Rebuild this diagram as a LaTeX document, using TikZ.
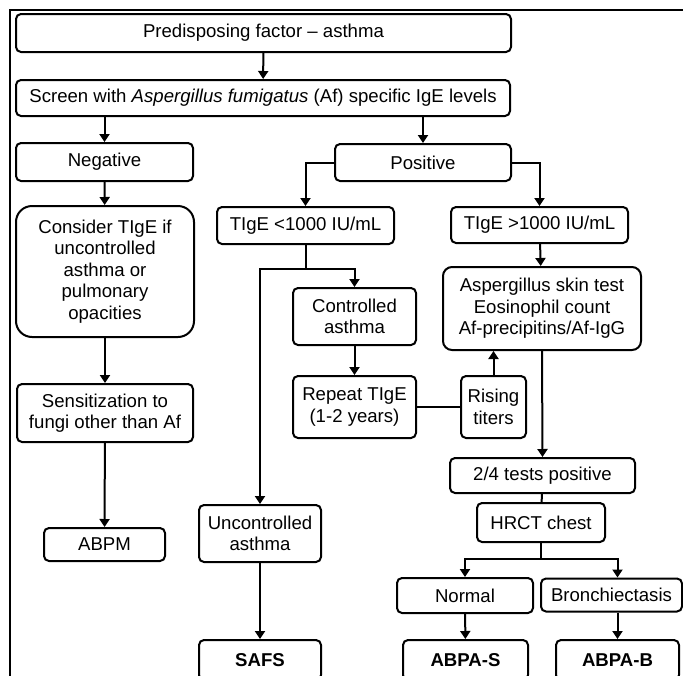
\documentclass[tikz,border=0pt]{standalone}
\usepackage{fontspec}
\setmainfont{Liberation Sans}
\usetikzlibrary{arrows.meta}
\newcommand{\fs}{\fontsize{18.6}{21.6}\selectfont}

\begin{document}
\begin{tikzpicture}[
  x=1pt, y=-1pt,
  >={Triangle[length=8pt,width=10pt]},
  box/.style={draw, rounded corners=5pt, line width=2pt, align=center, inner sep=1pt, font=\fs},
  big/.style={box, rounded corners=16pt},
  res/.style={box, font=\fs\bfseries},
  link/.style={line width=2pt},
]
  \path[use as bounding box] (0,0) rectangle (683,675);
  \clip (0,0) rectangle (683,675);
  \draw[line width=2.6pt] (700,10) -- (10,10) -- (10,700);

  % ---------------- screening
  \node[box, minimum width=495pt, minimum height=38pt] (pre) at (263.5,33) {Predisposing factor – asthma};
  \node[box, minimum width=494pt, minimum height=36pt] (screen) at (263,98)
    {Screen with \textit{Aspergillus fumigatus} (Af) specific IgE levels};
  \node[box, minimum width=177pt, minimum height=38pt] (neg) at (104.5,162) {Negative};
  \node[box, minimum width=176pt, minimum height=37pt] (pos) at (423,162.5) {Positive};
  \draw[link,->] (pre) -- (screen);
  \draw[link,->] (screen.south -| neg.north) -- (neg.north);
  \draw[link,->] (screen.south -| pos.north) -- (pos.north);

  % ---------------- negative branch
  \node[big, minimum width=178pt, minimum height=131pt] (consider) at (105,271.5)
    {Consider TIgE if\\uncontrolled\\asthma or\\pulmonary\\opacities};
  \node[box, minimum width=176pt, minimum height=58pt] (sens) at (105,413)
    {Sensitization to\\fungi other than Af};
  \node[box, minimum width=121pt, minimum height=33pt] (abpm) at (104.5,544.5) {ABPM};
  \draw[link,->] (neg) -- (consider);
  \draw[link,->] (consider.south -| sens.north) -- (sens.north);
  \draw[link,->] (sens) -- (abpm);

  % ---------------- TIgE below 1000
  \node[box, minimum width=177pt, minimum height=37pt] (tlow) at (305.5,225.5) {TIgE <1000 IU/mL};
  \node[box, minimum width=123pt, minimum height=57pt] (ctrl) at (354.5,316.5) {Controlled\\asthma};
  \node[box, minimum width=123pt, minimum height=62pt] (rep) at (354.5,407) {Repeat TIgE\\(1-2 years)};
  \node[box, minimum width=65pt, minimum height=62pt] (rise) at (493.5,407) {Rising\\titers};
  \node[box, minimum width=122pt, minimum height=57pt] (unctrl) at (260,533.5) {Uncontrolled\\asthma};
  \node[res, minimum width=122pt, minimum height=40pt] (safs) at (260,660) {SAFS};
  \draw[link,->] (pos.west) -| (tlow.north);
  \draw[link] (tlow.south) -- ++(0,24) coordinate (tsplit);
  \draw[link,->] (tsplit) -| (unctrl.north);
  \draw[link,->] (tsplit) -| (ctrl.north);
  \draw[link,->] (ctrl) -- (rep);
  \draw[link] (rep) -- (rise);
  \draw[link,->] (unctrl) -- (safs);

  % ---------------- TIgE above 1000
  \node[box, minimum width=177pt, minimum height=36pt] (thigh) at (539.5,225) {TIgE >1000 IU/mL};
  \node[box, rounded corners=9pt, minimum width=198pt, minimum height=83pt] (asp) at (542,308.5)
    {Aspergillus skin test\\Eosinophil count\\Af-precipitins/Af-IgG};
  \node[box, minimum width=185pt, minimum height=35pt] (tests) at (542.5,475.5) {2/4 tests positive};
  \node[box, minimum width=128pt, minimum height=39pt] (hrct) at (541,522.5) {HRCT chest};
  \node[box, minimum width=136pt, minimum height=35pt] (normal) at (465,595.5) {Normal};
  \node[box, minimum width=141pt, minimum height=33pt] (bronch) at (611.5,595) {Bronchiectasis};
  \node[res, minimum width=125pt, minimum height=40pt] (abpas) at (465.5,660) {ABPA-S};
  \node[res, minimum width=123pt, minimum height=40pt] (abpab) at (617.5,660) {ABPA-B};
  \draw[link,->] (pos.east) -| (thigh.north);
  \draw[link,->] (thigh) -- (asp);
  \draw[link,->] (rise.north) -- (rise.north |- asp.south);
  \draw[link,->] (asp.south) -- (tests.north);
  \draw[link] (tests) -- (hrct);
  \draw[link] (hrct.south) -- ++(0,16) coordinate (hsplit);
  \draw[link,->] (hsplit) -| (normal.north);
  \draw[link,->] (hsplit) -| (abpab.north |- bronch.north);
  \draw[link,->] (normal) -- (abpas);
  \draw[link,->] (abpab.north |- bronch.south) -- (abpab.north);
\end{tikzpicture}
\end{document}
